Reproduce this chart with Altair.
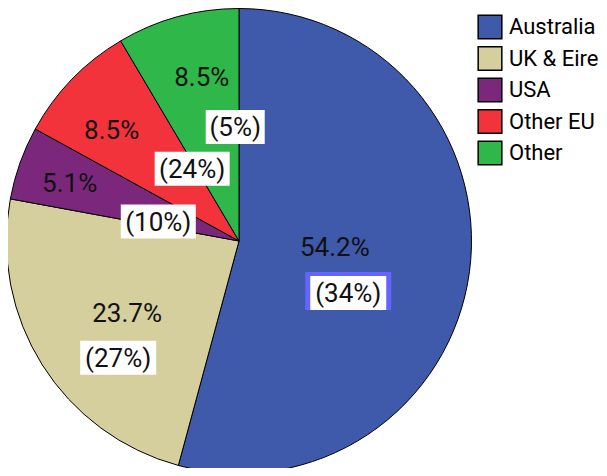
import altair as alt
import pandas as pd
import numpy as np

# ---- data ----
categories = ["Australia", "UK & Eire", "USA", "Other EU", "Other"]
shares = [54.2, 23.7, 5.1, 8.5, 8.5]
share_labels = ["54.2%", "23.7%", "5.1%", "8.5%", "8.5%"]
paren_labels = ["(34%)", "(27%)", "(10%)", "(24%)", "(5%)"]
colors = ["#3F59AB", "#D4CF9C", "#7B287C", "#F2333C", "#30B74A"]

# ---- layout (label placement relative to slice centres) ----
CX, CY, R = 231, 233, 232.5
pct_angle_off = [-4.0, -0.5, -0.7, -3.0, 2.5]
pct_radius = [96, 133, 179, 169, 168]
par_angle_off = [17.9, -11.8, -6.1, 12.9, 13.4]
par_radius = [121, 168, 83, 86, 114]
par_box_w = [76, 76, 75, 75, 59]
BOX_H = 34

vals = np.array(shares)
mid = (np.cumsum(vals) - vals / 2) / vals.sum() * 360.0

pie_df = pd.DataFrame({"cat": categories, "share": shares, "idx": range(len(categories))})


def pos(offs, rads):
    a = np.radians(mid + np.array(offs))
    r = np.array(rads, dtype=float)
    return CX + r * np.sin(a), CY - r * np.cos(a)


px, py = pos(pct_angle_off, pct_radius)
pct_df = pd.DataFrame({"label": share_labels, "px": px, "py": py})

qx, qy = pos(par_angle_off, par_radius)
w = np.array(par_box_w, dtype=float)
par_df = pd.DataFrame({
    "label": paren_labels,
    "px": qx, "py": qy,
    "bx1": qx - w / 2, "bx2": qx + w / 2,
    "by1": qy - BOX_H / 2, "by2": qy + BOX_H / 2,
    "hx1": qx - w / 2 - 5, "hx2": qx + w / 2 + 5,
    "hy1": qy - BOX_H / 2 - 4,
    "hl": [c == "Australia" for c in categories],
})

pie = alt.Chart(pie_df).mark_arc(outerRadius=R, stroke="black", strokeWidth=1).encode(
    theta=alt.Theta("share:Q", stack=True),
    order=alt.Order("idx:Q"),
    color=alt.Color(
        "cat:N",
        scale=alt.Scale(domain=categories, range=colors),
        sort=categories,
        legend=alt.Legend(
            orient="none", legendX=469, legendY=6, title=None,
            symbolType="square", symbolSize=560, symbolStrokeColor="black",
            symbolStrokeWidth=1.5, symbolOpacity=1,
            labelFont="Roboto", labelFontSize=22, labelColor="black",
            rowPadding=1.5, labelOffset=6, padding=0,
        ),
    ),
    x=alt.value(CX), y=alt.value(CY),
)

hl_box = alt.Chart(par_df).transform_filter("datum.hl").mark_rect(color="#6464FF").encode(
    x=alt.X("hx1:Q", scale=None, axis=None), x2="hx2:Q",
    y=alt.Y("hy1:Q", scale=None, axis=None), y2="by2:Q",
)

boxes = alt.Chart(par_df).mark_rect(color="white").encode(
    x=alt.X("bx1:Q", scale=None, axis=None), x2="bx2:Q",
    y=alt.Y("by1:Q", scale=None, axis=None), y2="by2:Q",
)

par_text = alt.Chart(par_df).mark_text(
    font="Roboto", fontSize=26, color="#111", align="center", baseline="middle", dy=1
).encode(
    x=alt.X("px:Q", scale=None, axis=None), y=alt.Y("py:Q", scale=None, axis=None), text="label:N"
)

pct_text = alt.Chart(pct_df).mark_text(
    font="Roboto", fontSize=26, color="#111", align="center", baseline="middle", dy=1
).encode(
    x=alt.X("px:Q", scale=None, axis=None), y=alt.Y("py:Q", scale=None, axis=None), text="label:N"
)

chart = alt.layer(pie, pct_text, hl_box, boxes, par_text).properties(
    width=591, height=460, padding=0, autosize=alt.AutoSizeParams(type="none"),
    background="white",
).configure_view(stroke=None)

chart.save("out.html", embed_options={"renderer": "svg", "actions": False})
